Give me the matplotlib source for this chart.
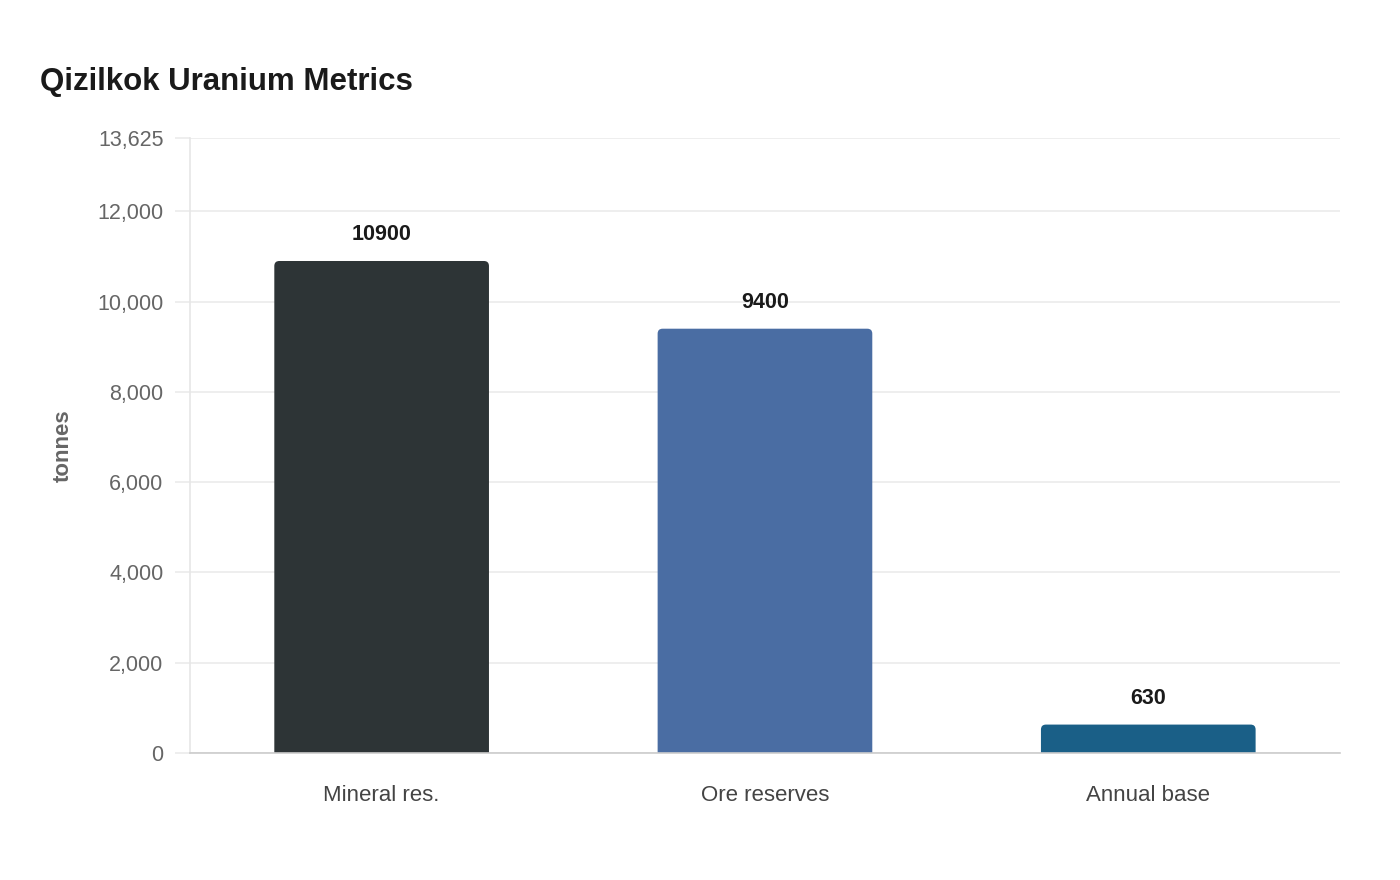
import matplotlib
matplotlib.use("Agg")
import matplotlib.pyplot as plt
from matplotlib.patches import FancyBboxPatch
from matplotlib.ticker import FuncFormatter

# data
categories = ["Mineral res.", "Ore reserves", "Annual base"]
values = [10900, 9400, 630]
bar_colors = ["#2d3436", "#4a6da3", "#1a5f87"]
y_ticks = [0, 2000, 4000, 6000, 8000, 10000, 12000, 13625]
y_max = 13625

plt.rcParams["font.family"] = ["Liberation Sans", "DejaVu Sans"]

fig = plt.figure(figsize=(14, 8.8), dpi=100)
ax = fig.add_axes([0.1357, 0.1443, 0.8214, 0.6989])

ax.set_xlim(-0.5, 2.5)
ax.set_ylim(0, y_max)

x = list(range(len(categories)))
bars = ax.bar(x, values, width=0.56, color=bar_colors, zorder=3)

# swap the plain rectangles for ones with rounded top corners
# (the rounded bottom is pushed below zero and clipped by the axes)
px_per_x = ax.transData.transform((1, 0))[0] - ax.transData.transform((0, 0))[0]
px_per_y = ax.transData.transform((0, 1))[1] - ax.transData.transform((0, 0))[1]
aspect = px_per_x / px_per_y
r = 5 / px_per_x
for b in bars:
    b.set_visible(False)
    patch = FancyBboxPatch(
        (b.get_x() + r, b.get_y()), b.get_width() - 2 * r, b.get_height() - r * aspect,
        boxstyle=f"round,pad={r}", mutation_aspect=aspect,
        facecolor=b.get_facecolor(), edgecolor="none", zorder=3,
    )
    ax.add_patch(patch)

for xi, v in zip(x, values):
    ax.annotate(str(v), (xi, v), xytext=(0, 11.5), textcoords="offset points",
                ha="center", va="bottom", fontsize=15.5, fontweight="bold", color="#1a1a1a")

ax.set_yticks(y_ticks)
ax.yaxis.set_major_formatter(FuncFormatter(lambda v, p: f"{int(v):,}"))
ax.set_xticks(x)
ax.set_xticklabels(categories)

ax.grid(axis="y", color="#ebebeb", linewidth=1.2, zorder=0)
ax.tick_params(axis="y", length=11, width=1.2, color="#ebebeb", labelsize=15.5,
               labelcolor="#666666", pad=8)
ax.tick_params(axis="x", length=0, labelsize=16, labelcolor="#444444", pad=23)

for s in ["top", "right"]:
    ax.spines[s].set_visible(False)
ax.spines["left"].set_color("#e6e6e6")
ax.spines["left"].set_linewidth(1.2)
ax.spines["bottom"].set_color("#cccccc")
ax.spines["bottom"].set_linewidth(1.2)
ax.spines["bottom"].set_zorder(4)

ax.set_ylabel("tonnes", fontsize=16, fontweight="bold", color="#666666", labelpad=17)

fig.text(40 / 1400, 1 - 82 / 880, "Qizilkok Uranium Metrics", fontsize=22.5,
         fontweight="bold", color="#1a1a1a", ha="left", va="center")

fig.savefig("out.png", dpi=100, facecolor="white")
